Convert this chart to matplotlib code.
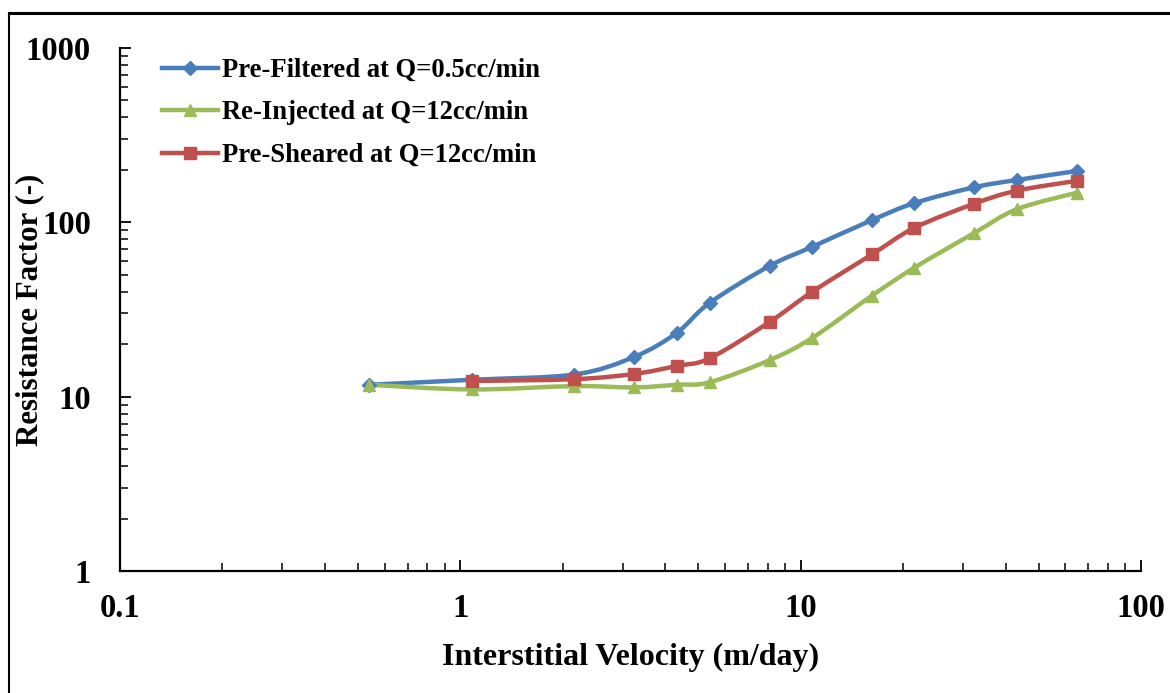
import numpy as np
import matplotlib
matplotlib.use("Agg")
import matplotlib.pyplot as plt
from matplotlib.path import Path
from matplotlib.patches import PathPatch
from matplotlib.lines import Line2D
from matplotlib.ticker import LogLocator, FixedLocator, NullFormatter, FixedFormatter

# ---- data ----
vel_blue = [0.54, 1.08, 2.16, 3.24, 4.32, 5.4, 8.1, 10.8, 16.2, 21.6, 32.4, 43.2, 64.8]
rf_blue = [11.7, 12.5, 13.4, 16.9, 23.2, 34.5, 56.2, 72.3, 103, 129, 159, 175, 197]

vel_green = [0.54, 1.08, 2.16, 3.24, 4.32, 5.4, 8.1, 10.8, 16.2, 21.6, 32.4, 43.2, 64.8]
rf_green = [11.7, 11.0, 11.5, 11.3, 11.7, 12.1, 16.2, 21.7, 38.0, 55.0, 87.0, 119, 148]

vel_red = [1.08, 2.16, 3.24, 4.32, 5.4, 8.1, 10.8, 16.2, 21.6, 32.4, 43.2, 64.8]
rf_red = [12.3, 12.6, 13.5, 15.0, 16.6, 26.8, 39.9, 65.5, 93.0, 128, 152, 173]

labels = ["Pre-Filtered at Q=0.5cc/min", "Re-Injected at Q=12cc/min", "Pre-Sheared at Q=12cc/min"]
colors = ["#4A7EBB", "#9BBB59", "#C0504D"]
markers = ["D", "^", "s"]
msizes = [7, 9, 9]

x_ticks = [0.1, 1, 10, 100]
x_ticklabels = ["0.1", "1", "10", "100"]
y_ticks = [1, 10, 100, 1000]
y_ticklabels = ["1", "10", "100", "1000"]

plt.rcParams['font.family'] = ['Liberation Serif', 'DejaVu Serif']
plt.rcParams['font.weight'] = 'bold'

fig = plt.figure(figsize=(11.7, 6.93), dpi=100)
ax = fig.add_axes([120/1170, 1-571/693, (1141-120)/1170, (571-48)/693])
ax.set_xscale('log')
ax.set_yscale('log')
ax.set_xlim(0.1, 100)
ax.set_ylim(1, 1000)


def smooth_path(xs, ys):
    lx = np.log10(np.asarray(xs, float))
    ly = np.log10(np.asarray(ys, float))
    n = len(lx)
    verts = [(lx[0], ly[0])]
    codes = [Path.MOVETO]
    for i in range(n - 1):
        p0 = np.array([lx[max(i-1, 0)], ly[max(i-1, 0)]])
        p1 = np.array([lx[i], ly[i]])
        p2 = np.array([lx[i+1], ly[i+1]])
        p3 = np.array([lx[min(i+2, n-1)], ly[min(i+2, n-1)]])
        c1 = p1 + (p2 - p0) / 6.0
        c2 = p2 - (p3 - p1) / 6.0
        verts += [tuple(c1), tuple(c2), tuple(p2)]
        codes += [Path.CURVE4] * 3
    verts = [(10**vx, 10**vy) for vx, vy in verts]
    return Path(verts, codes)


series = [(vel_blue, rf_blue), (vel_green, rf_green), (vel_red, rf_red)]
handles = []
for (xs, ys), lab, c, m, ms in zip(series, labels, colors, markers, msizes):
    patch = PathPatch(smooth_path(xs, ys), facecolor='none', edgecolor=c, lw=3.2,
                      capstyle='round', joinstyle='round', zorder=3)
    ax.add_patch(patch)
    ax.plot(xs, ys, linestyle='none', marker=m, ms=ms, color=c, mec=c, zorder=4)
    handles.append(Line2D([0], [0], color=c, lw=3.2, marker=m, ms=ms, mec=c))

for s in ['top', 'right']:
    ax.spines[s].set_visible(False)
for s in ['left', 'bottom']:
    ax.spines[s].set_linewidth(1.6)
    ax.spines[s].set_color('black')

ax.xaxis.set_major_locator(FixedLocator(x_ticks))
ax.xaxis.set_major_formatter(FixedFormatter(x_ticklabels))
ax.yaxis.set_major_locator(FixedLocator(y_ticks))
ax.yaxis.set_major_formatter(FixedFormatter(y_ticklabels))
ax.xaxis.set_minor_locator(LogLocator(base=10, subs=np.arange(2, 10), numticks=20))
ax.yaxis.set_minor_locator(LogLocator(base=10, subs=np.arange(2, 10), numticks=20))
ax.xaxis.set_minor_formatter(NullFormatter())
ax.yaxis.set_minor_formatter(NullFormatter())
ax.tick_params(which='major', direction='in', length=8, width=1.3, labelsize=23.5)
ax.tick_params(which='minor', direction='in', length=6, width=1.1)
ax.tick_params(axis='x', which='major', pad=16)
ax.tick_params(axis='y', which='major', pad=21)
for t in ax.get_xticklabels() + ax.get_yticklabels():
    t.set_fontweight('bold')

ax.set_xlabel("Interstitial Velocity (m/day)", fontsize=23, fontweight='bold')
ax.xaxis.set_label_coords(0.5, -0.138)
ax.set_ylabel("Resistance Factor (-)", fontsize=22.2, fontweight='bold')
ax.yaxis.set_label_coords(-0.074, 0.5)

leg = ax.legend(handles, labels, loc='upper left', bbox_to_anchor=(0.018, 1.027), frameon=False,
                handlelength=2.1, handletextpad=0.15, labelspacing=0.66,
                prop={'weight': 'bold', 'size': 19.2})

# outer frame (left and top edges)
fig.add_artist(Line2D([9/1170, 9/1170], [0, 1-13/693], color='black', lw=1.5))
fig.add_artist(Line2D([9/1170, 1], [1-13/693, 1-13/693], color='black', lw=2.2))

fig.savefig("out.png", dpi=100)
